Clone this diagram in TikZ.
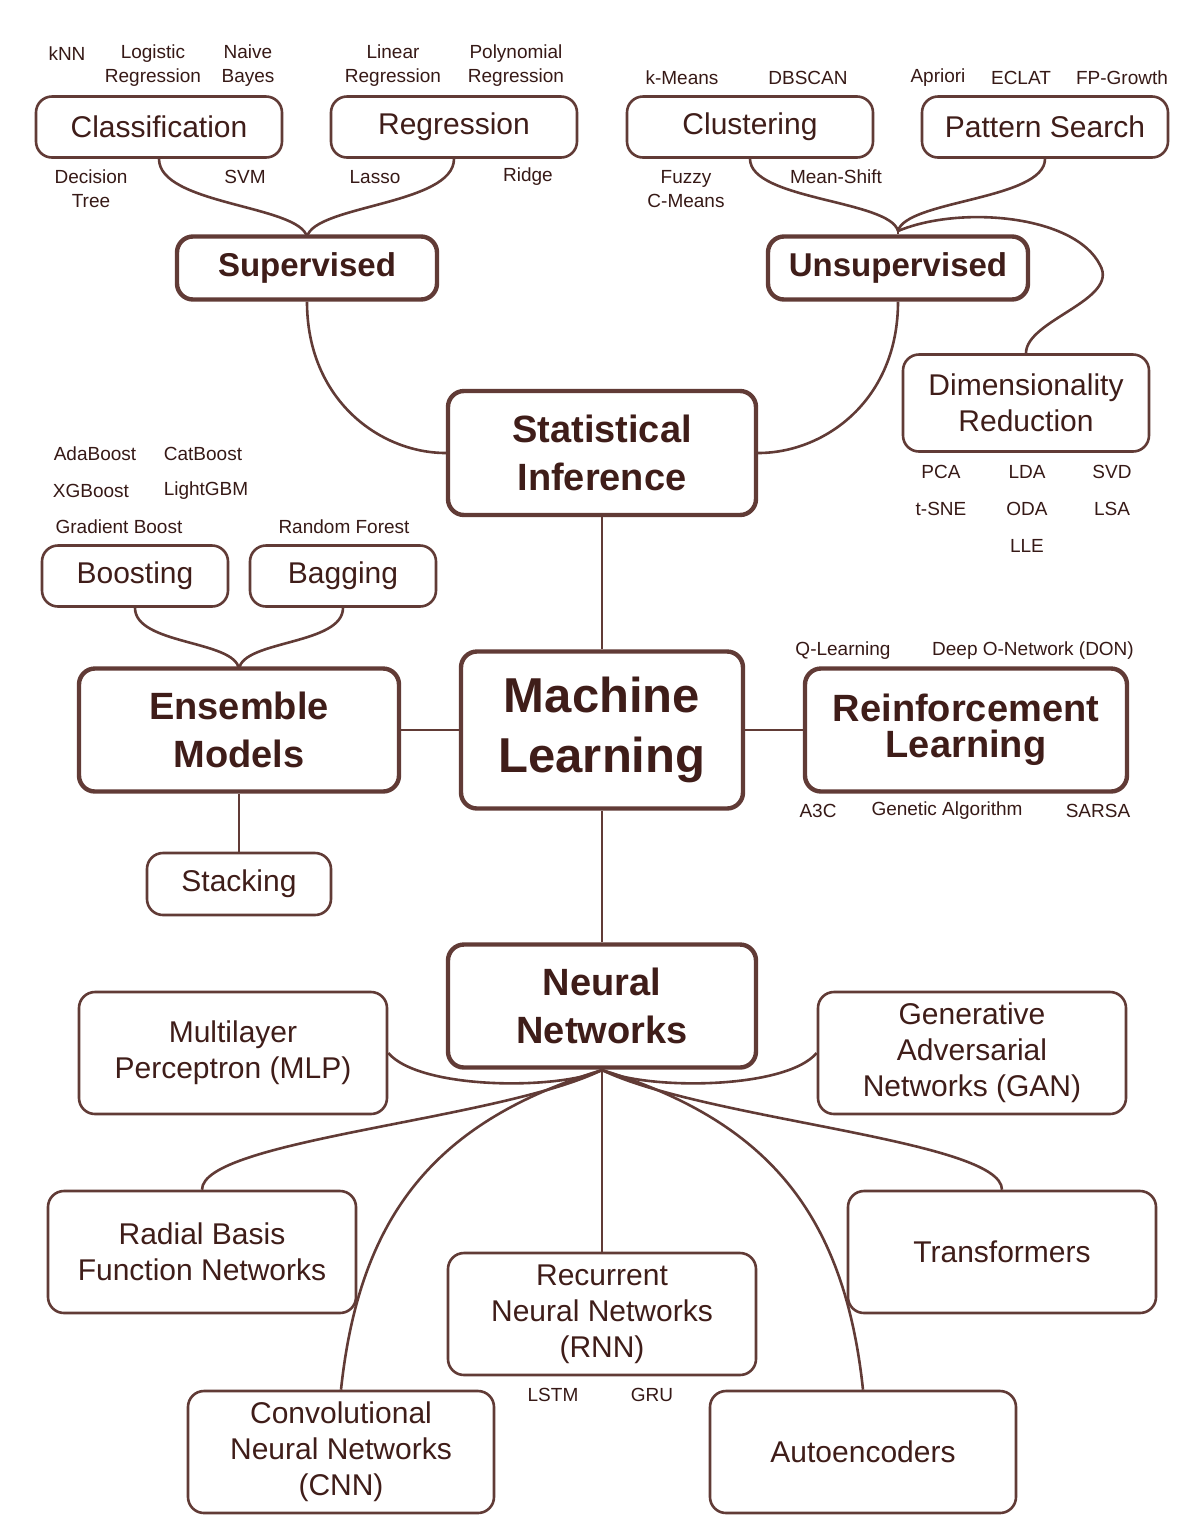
\documentclass[tikz,border=0pt]{standalone}
\usepackage{fontspec}
\setmainfont{Liberation Sans}
\usepackage{tikz}
\definecolor{mlbrown}{HTML}{5A2A24}
\tikzset{
  box/.style={draw=mlbrown!80!gray, line width=1.3pt, rounded corners=8pt, align=center,
              inner sep=0pt, font=\fontsize{15}{18}\selectfont, text=mlbrown!70!black},
  hub/.style={box, line width=2.2pt, font=\bfseries\fontsize{16.5}{21}\selectfont},
  tag/.style={font=\fontsize{9.5}{12}\selectfont, text=mlbrown!60!black, align=center, inner sep=0pt},
  link/.style={draw=mlbrown!80!gray, line width=1.3pt},
}
\begin{document}
\begin{tikzpicture}[x=0.5pt,y=-0.5pt]
        \useasboundingbox (0,0) rectangle (1200,1522);

        % level 1 boxes
        \node[box, minimum width=123pt, minimum height=30.5pt] (cls) at (159,127) {Classification};
        \node[box, minimum width=123pt, minimum height=30.5pt] (reg) at (454,127) {Regression\strut};
        \node[box, minimum width=123pt, minimum height=30.5pt] (clu) at (750,127) {Clustering\strut};
        \node[box, minimum width=123pt, minimum height=30.5pt] (pat) at (1045,127) {Pattern Search};
        \node[hub, minimum width=130pt, minimum height=31.5pt] (sup) at (307,268) {Supervised\strut};
        \node[hub, minimum width=130pt, minimum height=31.5pt] (uns) at (898,268) {Unsupervised\strut};
        \node[box, minimum width=123pt, minimum height=48.5pt] (dim) at (1026,403) {Dimensionality\\Reduction};
        \node[hub, minimum width=154pt, minimum height=62pt, font=\bfseries\fontsize{19}{24}\selectfont] (sti) at (602,453) {Statistical\\Inference};

        \node[box, minimum width=93pt, minimum height=30.5pt] (boo) at (135,576) {Boosting};
        \node[box, minimum width=93pt, minimum height=30.5pt] (bag) at (343,576) {Bagging};
        \node[hub, minimum width=160pt, minimum height=61.5pt, font=\bfseries\fontsize{19}{24}\selectfont] (ens) at (239,730) {Ensemble\\Models};
        \node[hub, minimum width=141pt, minimum height=78.5pt, font=\bfseries\fontsize{24.5}{30}\selectfont] (ml) at (602,730) {Machine\\Learning};
        \node[hub, minimum width=161pt, minimum height=61.5pt, font=\bfseries\fontsize{19}{18}\selectfont] (rl) at (966,730) {Reinforcement\\Learning};
        \node[box, minimum width=92pt, minimum height=31pt] (stk) at (239,884) {Stacking};
        \node[hub, minimum width=154pt, minimum height=61.5pt, font=\bfseries\fontsize{19}{24}\selectfont] (nn) at (602,1006) {Neural\\Networks};

        % neural network family
        \node[box, minimum width=154pt, minimum height=61pt] (mlp) at (233,1053) {Multilayer\\Perceptron (MLP)};
        \node[box, minimum width=154pt, minimum height=61pt] (gan) at (972,1053) {Generative\\Adversarial\\Networks (GAN)};
        \node[box, minimum width=154pt, minimum height=61pt] (rbf) at (202,1252) {Radial Basis\\Function Networks};
        \node[box, minimum width=154pt, minimum height=61pt] (trf) at (1002,1252) {Transformers};
        \node[box, minimum width=154pt, minimum height=61pt] (rnn) at (602,1314) {Recurrent\\Neural Networks\\(RNN)};
        \node[box, minimum width=153pt, minimum height=61pt] (cnn) at (341,1452) {Convolutional\\Neural Networks\\(CNN)};
        \node[box, minimum width=153pt, minimum height=61pt] (aut) at (863,1452) {Autoencoders};

        % small labels
        \node[tag] (knn) at (67,54) {kNN};
        \node[tag] (lgr) at (153,66) {Logistic\\Regression};
        \node[tag] (nbs) at (248,66) {Naive\\Bayes};
        \node[tag] (dtr) at (91,189) {Decision\\Tree};
        \node[tag] (svm) at (245,177) {SVM};
        \node[tag] (lin) at (393,66) {Linear\\Regression};
        \node[tag] (pol) at (516,66) {Polynomial\\Regression};
        \node[tag] (las) at (375,177) {Lasso};
        \node[tag] (rid) at (528,177) {Ridge};
        \node[tag] (kme) at (682,78) {k-Means};
        \node[tag] (dbs) at (808,78) {DBSCAN};
        \node[tag] (fcm) at (686,189) {Fuzzy\\C-Means};
        \node[tag] (msh) at (836,177) {Mean-Shift};
        \node[tag] (apr) at (938,78) {Apriori};
        \node[tag] (ecl) at (1021,78) {ECLAT};
        \node[tag] (fpg) at (1122,78) {FP-Growth};
        \node[tag] (pca) at (941,472) {PCA};
        \node[tag] (lda) at (1027,472) {LDA};
        \node[tag] (svd) at (1112,472) {SVD};
        \node[tag] (tsn) at (941,509) {t-SNE};
        \node[tag] (oda) at (1027,509) {ODA};
        \node[tag] (lsa) at (1112,509) {LSA};
        \node[tag] (lle) at (1027,546) {LLE};
        \node[tag] (ada) at (95,454) {AdaBoost};
        \node[tag] (cat) at (203,454) {CatBoost};
        \node[tag] (xgb) at (91,491) {XGBoost};
        \node[tag] (lgb) at (206,491) {LightGBM};
        \node[tag] (gbo) at (119,527) {Gradient Boost};
        \node[tag] (rfo) at (344,527) {Random Forest};
        \node[tag] (qle) at (843,651) {Q-Learning};
        \node[tag] (dqn) at (1033,651) {Deep O-Network (DON)};
        \node[tag] (a3c) at (818,811) {A3C};
        \node[tag] (gen) at (947,811) {Genetic Algorithm};
        \node[tag] (srs) at (1098,811) {SARSA};
        \node[tag] (lst) at (553,1395) {LSTM};
        \node[tag] (gru) at (652,1395) {GRU};

        % joints
        \coordinate (jsup) at (307,237);
        \coordinate (juns) at (898,231);
        \coordinate (jens) at (239,669);
        \coordinate (jnn) at (602,1070);

        \draw[link] (cls.south) .. controls (159,205) and (300,205) .. (jsup);
        \draw[link] (reg.south) .. controls (454,205) and (314,205) .. (jsup);
        \draw[link] (jsup) -- (sup.north);
        \draw[link] (clu.south) .. controls (750,200) and (890,200) .. (juns);
        \draw[link] (pat.south) .. controls (1045,200) and (906,200) .. (juns);
        \draw[link] (dim.north) .. controls (1026,320) and (1120,300) .. (1100,265)
                .. controls (1075,215) and (960,205) .. (juns);
        \draw[link] (juns) -- (uns.north);
        \draw[link] (sup.south) .. controls (307,400) and (380,453) .. (sti.west);
        \draw[link] (uns.south) .. controls (898,400) and (825,453) .. (sti.east);
        \draw[link] (sti.south) -- (ml.north);

        \draw[link] (boo.south) .. controls (135,645) and (235,640) .. (jens);
        \draw[link] (bag.south) .. controls (343,645) and (243,640) .. (jens);
        \draw[link] (ens.east) -- (ml.west);
        \draw[link] (ml.east) -- (rl.west);
        \draw[link] (ens.south) -- (stk.north);
        \draw[link] (ml.south) -- (nn.north);

        \draw[link] (jnn) .. controls (560,1090) and (420,1090) .. (mlp.east);
        \draw[link] (jnn) .. controls (645,1090) and (785,1090) .. (gan.west);
        \draw[link] (jnn) .. controls (500,1120) and (202,1140) .. (rbf.north);
        \draw[link] (jnn) .. controls (705,1120) and (1002,1140) .. (trf.north);
        \draw[link] (jnn) -- (rnn.north);
        \draw[link] (jnn) .. controls (440,1120) and (360,1210) .. (cnn.north);
        \draw[link] (jnn) .. controls (764,1120) and (844,1210) .. (aut.north);
\end{tikzpicture}
\end{document}
